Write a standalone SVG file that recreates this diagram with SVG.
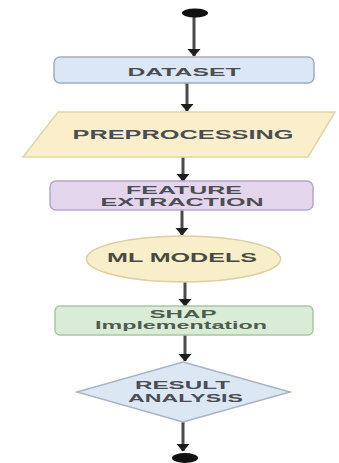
<svg xmlns="http://www.w3.org/2000/svg" width="339" height="463" viewBox="0 0 339 463">
  <style>
    .lbl { font-family: "Liberation Sans", Arial, sans-serif; font-weight: bold; fill: #4a4d52; text-anchor: middle; }
    .edge { stroke: #4a4a4a; stroke-width: 3; fill: none; }
    .term { fill: #111; }
  </style>
  <defs>
    <marker id="arrow" viewBox="0 0 8 14" refX="7.5" refY="7" markerWidth="8" markerHeight="14" markerUnits="userSpaceOnUse" orient="auto">
      <path d="M0,0 L8,7 L0,14 Z" fill="#1e1e1e"/>
    </marker>
  </defs>
  <rect width="339" height="463" fill="#ffffff"/>

  <!-- connectors -->
  <g id="connectors">
    <line class="edge" x1="194" y1="15" x2="194" y2="56" marker-end="url(#arrow)"/>
    <line class="edge" x1="187" y1="83" x2="187" y2="111" marker-end="url(#arrow)"/>
    <line class="edge" x1="183" y1="157" x2="183" y2="181" marker-end="url(#arrow)"/>
    <line class="edge" x1="182" y1="210" x2="182" y2="235" marker-end="url(#arrow)"/>
    <line class="edge" x1="185" y1="282" x2="185" y2="306" marker-end="url(#arrow)"/>
    <line class="edge" x1="185" y1="335" x2="185" y2="361" marker-end="url(#arrow)"/>
    <line class="edge" x1="183" y1="422" x2="183" y2="451" marker-end="url(#arrow)"/>
  </g>

  <!-- start terminal -->
  <g id="start">
    <ellipse class="term" cx="195" cy="13" rx="13" ry="4.5"/>
  </g>

  <g id="dataset">
    <rect x="54" y="57" width="260" height="26" rx="6" fill="#dbe7f6" stroke="#a3acba" stroke-width="1.5"/>
    <text class="lbl" x="184" y="76" font-size="11" textLength="113" lengthAdjust="spacingAndGlyphs">DATASET</text>
  </g>

  <g id="preprocessing">
    <polygon points="58,112 335,112 308,157 23,157" fill="#fbefcb" stroke="#e2d5a9" stroke-width="1.5"/>
    <text class="lbl" x="183" y="139" font-size="13.5" textLength="221" lengthAdjust="spacingAndGlyphs">PREPROCESSING</text>
  </g>

  <g id="feature-extraction">
    <rect x="50" y="181" width="263" height="29" rx="6" fill="#e3d6ec" stroke="#b6a8c6" stroke-width="1.5"/>
    <text class="lbl" x="184" y="194" font-size="11" textLength="116" lengthAdjust="spacingAndGlyphs">FEATURE</text>
    <text class="lbl" x="182" y="205.5" font-size="11" textLength="163" lengthAdjust="spacingAndGlyphs">EXTRACTION</text>
  </g>

  <g id="ml-models">
    <ellipse cx="183.5" cy="259" rx="97" ry="23" fill="#f8eec9" stroke="#dccfa2" stroke-width="1.5"/>
    <text class="lbl" x="182" y="262" font-size="12.5" textLength="150" lengthAdjust="spacingAndGlyphs" style="fill:#4b4a40">ML MODELS</text>
  </g>

  <g id="shap">
    <rect x="55" y="306" width="258" height="29" rx="5" fill="#d9ecd5" stroke="#a9c6a2" stroke-width="1.5"/>
    <text class="lbl" x="183" y="318" font-size="11" textLength="67" lengthAdjust="spacingAndGlyphs" style="fill:#4d5c4f">SHAP</text>
    <text class="lbl" x="181" y="329" font-size="11" textLength="172" lengthAdjust="spacingAndGlyphs" style="fill:#4d5c4f">Implementation</text>
  </g>

  <g id="result-analysis">
    <polygon points="183,362 290,392 183,422 77,392" fill="#dbe7f3" stroke="#a8b4c4" stroke-width="1.5"/>
    <text class="lbl" x="182.5" y="389" font-size="10.5" textLength="95" lengthAdjust="spacingAndGlyphs">RESULT</text>
    <text class="lbl" x="185.5" y="401.5" font-size="11" textLength="115" lengthAdjust="spacingAndGlyphs">ANALYSIS</text>
  </g>

  <!-- end terminal -->
  <g id="end">
    <ellipse class="term" cx="185" cy="458" rx="13" ry="5"/>
  </g>
</svg>
